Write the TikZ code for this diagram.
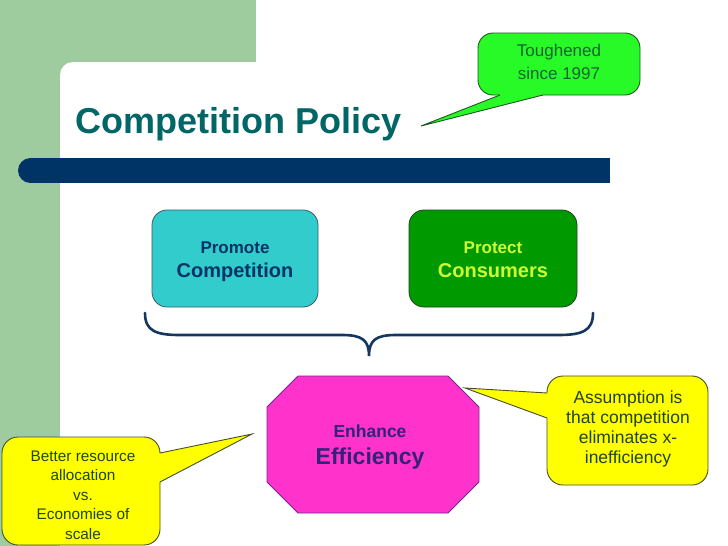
\documentclass[tikz,border=0pt]{standalone}
\usepackage{fontspec}
\setmainfont{Liberation Sans}
\definecolor{sage}{RGB}{158,204,158}
\definecolor{navybar}{RGB}{0,51,102}
\definecolor{titleteal}{RGB}{0,102,102}
\definecolor{toughfill}{RGB}{40,250,40}
\definecolor{toughline}{RGB}{30,90,30}
\definecolor{toughtext}{RGB}{20,100,50}
\definecolor{cyanfill}{RGB}{51,204,204}
\definecolor{cyanline}{RGB}{60,90,110}
\definecolor{greenfill}{RGB}{0,153,0}
\definecolor{greenline}{RGB}{30,70,30}
\definecolor{limetext}{RGB}{204,255,51}
\definecolor{magfill}{RGB}{255,51,204}
\definecolor{magline}{RGB}{110,40,140}
\definecolor{indigotext}{RGB}{51,34,120}
\definecolor{yelfill}{RGB}{255,255,0}
\definecolor{yelline}{RGB}{70,80,40}
\definecolor{yeltext}{RGB}{30,70,20}
\definecolor{bracecol}{RGB}{20,55,95}
\newcommand{\topstrut}[1]{\rule{0pt}{#1}}
\newcommand{\botstrut}[1]{\rule[-#1]{0pt}{#1}}
\tikzset{
  boxnode/.style={rounded corners=15pt, draw, line width=0.8pt, minimum width=166pt, minimum height=97pt, align=center, font=\fontsize{20}{24}\selectfont\bfseries},
  txt/.style={align=center, inner sep=0pt}
}
\begin{document}
\begin{tikzpicture}[x=1pt,y=-1pt]
\useasboundingbox (0,0) rectangle (728,546);
\clip (0,0) rectangle (728,546);
% page background
\fill[white] (0,0) rectangle (728,546);
\fill[sage] (0,0) rectangle (256,80);
\fill[sage] (0,0) rectangle (60,546);
\fill[white, rounded corners=13pt] (60,62) rectangle (780,620);
% title bar
\fill[navybar] (30.5,158) rectangle (610,183);
\fill[navybar] (30.5,170.5) circle[radius=12.5pt];
% title
\node[anchor=base west, inner sep=0pt, text=titleteal, font=\fontsize{36}{40}\selectfont\bfseries] (title) at (75,133) {Competition Policy};
% Toughened callout
\draw[line width=0.9pt, draw=toughline, fill=toughfill, rounded corners=15pt] (478,33) rectangle (640,95);
\fill[toughfill] (421,126) -- (500,95) -- (500,92) -- (543,92) -- (543,95) -- cycle;
\draw[line width=0.9pt, draw=toughline, line join=miter] (500,95) -- (421,126) -- (543,95);
\node[txt, text=toughtext, font=\fontsize{17}{22.5}\selectfont] (tough) at (559,62) {Toughened\\since 1997};
% boxes
\node[boxnode, fill=cyanfill, draw=cyanline, text=navybar] (promote) at (235,258.5) {\fontsize{17}{24}\selectfont\topstrut{18pt}Promote\\\fontsize{20}{24}\selectfont Competition\botstrut{5pt}};
\node[boxnode, fill=greenfill, draw=greenline, text=limetext, minimum width=168pt] (protect) at (493,258.5) {\fontsize{17}{24}\selectfont\topstrut{18pt}Protect\\\fontsize{20}{24}\selectfont Consumers\botstrut{5pt}};
% brace
\draw[bracecol, line width=2.6pt, line cap=round] (145,313) .. controls (145,331) and (156,335) .. (180,335) -- (342,335) .. controls (362,335) and (369,340) .. (369,356) .. controls (369,340) and (376,335) .. (396,335) -- (558,335) .. controls (582,335) and (593,331) .. (593,313);
% octagon
\draw[fill=magfill, draw=magline, line width=0.9pt] (298,376) -- (448,376) -- (479,407) -- (479,482) -- (448,513) -- (298,513) -- (267,482) -- (267,407) -- cycle;
\node[txt, text=indigotext, font=\fontsize{23}{27}\selectfont\bfseries] (enhance) at (370,445) {\fontsize{17.5}{27}\selectfont\topstrut{16pt}Enhance\\\fontsize{23}{27}\selectfont Efficiency\botstrut{5pt}};
% right callout
\draw[line width=0.9pt, draw=yelline, fill=yelfill, rounded corners=16pt] (547,376) rectangle (708,485);
\fill[yelfill] (465,388) -- (547,393) -- (550,393) -- (550,418) -- (547,418) -- cycle;
\draw[line width=0.9pt, draw=yelline, line join=miter] (547,393) -- (465,388) -- (547,418);
\node[txt, text=yeltext, font=\fontsize{17.5}{19.7}\selectfont] (assump) at (628,429) {Assumption is\\that competition\\eliminates x-\\inefficiency};
% left callout
\draw[line width=0.9pt, draw=yelline, fill=yelfill, rounded corners=16pt] (2,437) rectangle (160,545);
\fill[yelfill] (252,434) -- (160,453) -- (157,453) -- (157,482) -- (160,482) -- cycle;
\draw[line width=0.9pt, draw=yelline, line join=miter] (160,453) -- (252,434) -- (160,482);
\node[txt, text=yeltext, font=\fontsize{15.3}{19.5}\selectfont] (better) at (83,495) {Better resource\\allocation\\vs.\\Economies of\\scale};
\end{tikzpicture}
\end{document}
